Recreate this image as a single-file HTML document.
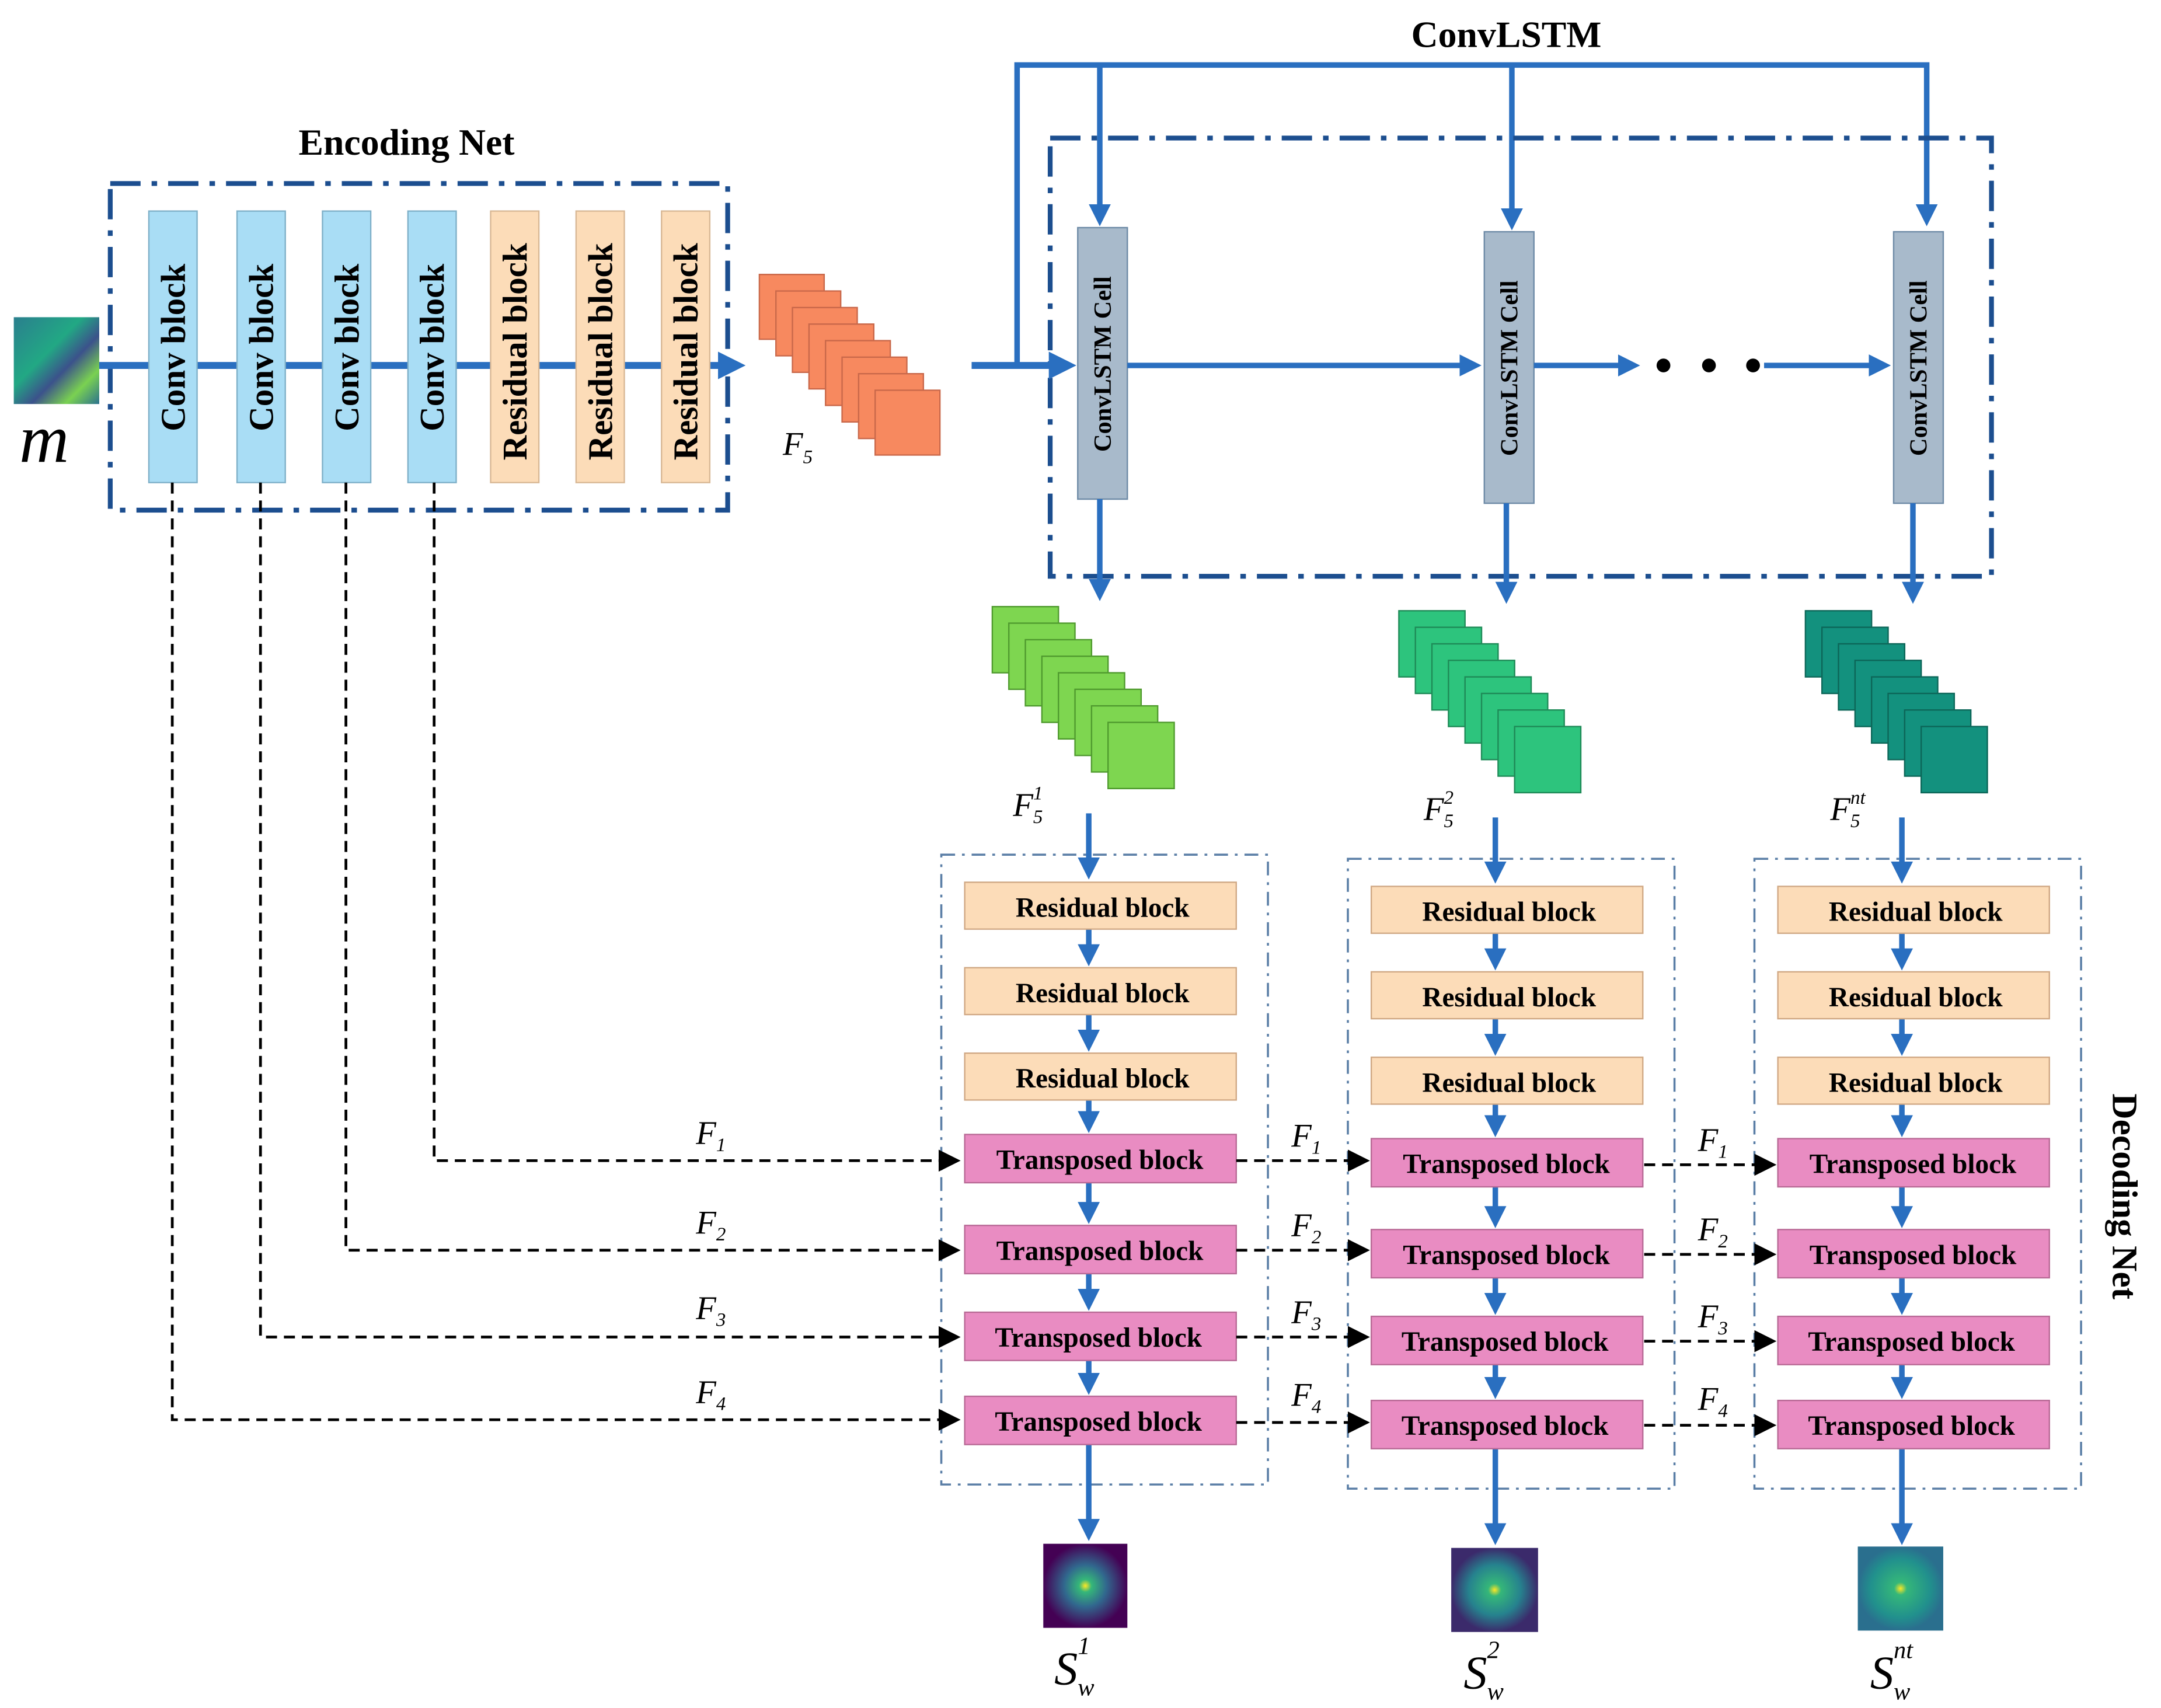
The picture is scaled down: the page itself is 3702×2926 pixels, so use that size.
<!DOCTYPE html>
<html><head><meta charset="utf-8"><style>
html,body{margin:0;padding:0;background:#fff}
svg{display:block}
text{font-family:"Liberation Serif",serif}
.b{font-weight:bold}
</style></head><body>
<svg width="3702" height="2926" viewBox="0 0 1568 1239" xmlns="http://www.w3.org/2000/svg">
<defs>
<marker id="ab" markerWidth="4" markerHeight="4" refX="3" refY="2" orient="auto" markerUnits="strokeWidth"><path d="M0,0 L4,2 L0,4 Z" fill="#2a6fc0"/></marker>
<marker id="ak" markerWidth="8" markerHeight="8" refX="7" refY="4" orient="auto" markerUnits="strokeWidth"><path d="M0,0 L8,4 L0,8 Z" fill="#000"/></marker>
<linearGradient id="vir" x1="0" y1="0" x2="1" y2="1"><stop offset="0" stop-color="#2a7f8e"/><stop offset="0.4" stop-color="#22a884"/><stop offset="0.6" stop-color="#3b528b"/><stop offset="0.8" stop-color="#7ad151"/><stop offset="1" stop-color="#2c728e"/></linearGradient>
<radialGradient id="o1"><stop offset="0" stop-color="#fde725"/><stop offset="0.15" stop-color="#35b779"/><stop offset="0.5" stop-color="#31688e"/><stop offset="1" stop-color="#440154"/></radialGradient>
<radialGradient id="o2"><stop offset="0" stop-color="#fde725"/><stop offset="0.15" stop-color="#35b779"/><stop offset="0.6" stop-color="#26828e"/><stop offset="1" stop-color="#3b2a6b"/></radialGradient>
<radialGradient id="o3"><stop offset="0" stop-color="#fde725"/><stop offset="0.15" stop-color="#35b779"/><stop offset="0.7" stop-color="#21908d"/><stop offset="1" stop-color="#2a6f8e"/></radialGradient>
</defs>

<text x="295" y="112" text-anchor="middle" font-size="27" class="b">Encoding Net</text>
<rect x="80" y="133" width="448" height="237" fill="none" stroke="#1c4e8f" stroke-width="3.5" stroke-dasharray="22,8,4,8"/>
<rect x="10" y="230" width="62" height="63" fill="url(#vir)"/>
<text x="14" y="335" font-size="50" font-style="italic">m</text>
<line x1="72" y1="265" x2="536" y2="265" stroke="#2a6fc0" stroke-width="5" marker-end="url(#ab)"/>
<g font-size="25" class="b">
<g fill="#a9ddf5" stroke="#7fb0c8">
<rect x="108" y="153" width="35" height="197"/><rect x="172" y="153" width="35" height="197"/>
<rect x="234" y="153" width="35" height="197"/><rect x="296" y="153" width="35" height="197"/>
</g>
<g fill="#fcdcb8" stroke="#d8b896">
<rect x="356" y="153" width="35" height="197"/><rect x="418" y="153" width="35" height="197"/><rect x="480" y="153" width="35" height="197"/>
</g>
<text transform="translate(134,252) rotate(-90)" text-anchor="middle">Conv block</text>
<text transform="translate(198,252) rotate(-90)" text-anchor="middle">Conv block</text>
<text transform="translate(260,252) rotate(-90)" text-anchor="middle">Conv block</text>
<text transform="translate(322,252) rotate(-90)" text-anchor="middle">Conv block</text>
<text transform="translate(382,255) rotate(-90)" text-anchor="middle">Residual block</text>
<text transform="translate(444,255) rotate(-90)" text-anchor="middle">Residual block</text>
<text transform="translate(506,255) rotate(-90)" text-anchor="middle">Residual block</text>
</g>
<g fill="#f7895f" stroke="#c9684a">
<rect x="551" y="199" width="47" height="47"/><rect x="563" y="211" width="47" height="47"/><rect x="575" y="223" width="47" height="47"/><rect x="587" y="235" width="47" height="47"/><rect x="599" y="247" width="47" height="47"/><rect x="611" y="259" width="47" height="47"/><rect x="623" y="271" width="47" height="47"/><rect x="635" y="283" width="47" height="47"/>
</g>
<text x="568" y="330" font-size="24" font-style="italic">F<tspan font-size="14" dy="6">5</tspan></text>

<text x="1093" y="34" text-anchor="middle" font-size="27" class="b">ConvLSTM</text>
<path d="M738,265 V47 H1398 V160" fill="none" stroke="#2a6fc0" stroke-width="4" marker-end="url(#ab)"/>
<line x1="798" y1="47" x2="798" y2="160" stroke="#2a6fc0" stroke-width="4" marker-end="url(#ab)"/>
<line x1="1097" y1="47" x2="1097" y2="163" stroke="#2a6fc0" stroke-width="4" marker-end="url(#ab)"/>
<rect x="762" y="100" width="683" height="318" fill="none" stroke="#1c4e8f" stroke-width="3.5" stroke-dasharray="22,8,4,8"/>
<line x1="705" y1="265" x2="776" y2="265" stroke="#2a6fc0" stroke-width="5" marker-end="url(#ab)"/>
<g fill="#a8bacb" stroke="#6d8aa6">
<rect x="782" y="165" width="36" height="197"/><rect x="1077" y="168" width="36" height="197"/><rect x="1374" y="168" width="36" height="197"/>
</g>
<g font-size="18" class="b">
<text transform="translate(806,264) rotate(-90)" text-anchor="middle">ConvLSTM Cell</text>
<text transform="translate(1101,267) rotate(-90)" text-anchor="middle">ConvLSTM Cell</text>
<text transform="translate(1398,267) rotate(-90)" text-anchor="middle">ConvLSTM Cell</text>
</g>
<g stroke="#2a6fc0" stroke-width="4">
<line x1="818" y1="265" x2="1071" y2="265" marker-end="url(#ab)"/>
<line x1="1113" y1="265" x2="1186" y2="265" marker-end="url(#ab)"/>
<line x1="1280" y1="265" x2="1368" y2="265" marker-end="url(#ab)"/>
<line x1="798" y1="362" x2="798" y2="432" marker-end="url(#ab)"/>
<line x1="1093" y1="365" x2="1093" y2="434" marker-end="url(#ab)"/>
<line x1="1388" y1="365" x2="1388" y2="434" marker-end="url(#ab)"/>
</g>
<circle cx="1207" cy="265" r="5"/><circle cx="1240" cy="265" r="5"/><circle cx="1272" cy="265" r="5"/>

<g fill="#7ed650" stroke="#4f9a2e">
<rect x="720" y="440" width="48" height="48"/><rect x="732" y="452" width="48" height="48"/><rect x="744" y="464" width="48" height="48"/><rect x="756" y="476" width="48" height="48"/><rect x="768" y="488" width="48" height="48"/><rect x="780" y="500" width="48" height="48"/><rect x="792" y="512" width="48" height="48"/><rect x="804" y="524" width="48" height="48"/>
</g>
<g fill="#2dc47d" stroke="#1e8a57">
<rect x="1015" y="443" width="48" height="48"/><rect x="1027" y="455" width="48" height="48"/><rect x="1039" y="467" width="48" height="48"/><rect x="1051" y="479" width="48" height="48"/><rect x="1063" y="491" width="48" height="48"/><rect x="1075" y="503" width="48" height="48"/><rect x="1087" y="515" width="48" height="48"/><rect x="1099" y="527" width="48" height="48"/>
</g>
<g fill="#13917e" stroke="#0c6658">
<rect x="1310" y="443" width="48" height="48"/><rect x="1322" y="455" width="48" height="48"/><rect x="1334" y="467" width="48" height="48"/><rect x="1346" y="479" width="48" height="48"/><rect x="1358" y="491" width="48" height="48"/><rect x="1370" y="503" width="48" height="48"/><rect x="1382" y="515" width="48" height="48"/><rect x="1394" y="527" width="48" height="48"/>
</g>
<g font-size="24" font-style="italic">
<text x="735" y="592">F<tspan font-size="14" dy="5">5</tspan><tspan font-size="14" dx="-7" dy="-17">1</tspan></text>
<text x="1033" y="595">F<tspan font-size="14" dy="5">5</tspan><tspan font-size="14" dx="-7" dy="-17">2</tspan></text>
<text x="1328" y="595">F<tspan font-size="14" dy="5">5</tspan><tspan font-size="14" dx="-7" dy="-17">nt</tspan></text>
</g>

<g id="col">
<rect x="683" y="620" width="237" height="457" fill="none" stroke="#5a7ea6" stroke-width="1.5" stroke-dasharray="10,5,2,5"/>
<g stroke="#2a6fc0" stroke-width="4">
<line x1="790" y1="590" x2="790" y2="634" marker-end="url(#ab)"/>
<line x1="790" y1="674" x2="790" y2="697" marker-end="url(#ab)"/>
<line x1="790" y1="736" x2="790" y2="759" marker-end="url(#ab)"/>
<line x1="790" y1="798" x2="790" y2="818" marker-end="url(#ab)"/>
<line x1="790" y1="858" x2="790" y2="884" marker-end="url(#ab)"/>
<line x1="790" y1="924" x2="790" y2="947" marker-end="url(#ab)"/>
<line x1="790" y1="987" x2="790" y2="1008" marker-end="url(#ab)"/>
<line x1="790" y1="1048" x2="790" y2="1114" marker-end="url(#ab)"/>
</g>
<g fill="#fcdcb8" stroke="#d0a884">
<rect x="700" y="640" width="197" height="34"/><rect x="700" y="702" width="197" height="34"/><rect x="700" y="764" width="197" height="34"/>
</g>
<g fill="#e98cc2" stroke="#b86a96">
<rect x="700" y="823" width="197" height="35"/><rect x="700" y="889" width="197" height="35"/><rect x="700" y="952" width="197" height="35"/><rect x="700" y="1013" width="197" height="35"/>
</g>
<g font-size="20" class="b" text-anchor="middle">
<text x="800" y="665">Residual block</text><text x="800" y="727">Residual block</text><text x="800" y="789">Residual block</text>
<text x="798" y="848">Transposed block</text><text x="798" y="914">Transposed block</text><text x="797" y="977">Transposed block</text><text x="797" y="1038">Transposed block</text>
</g>
</g>
<use href="#col" transform="translate(295,3)"/>
<use href="#col" transform="translate(590,3)"/>

<rect x="757" y="1120" width="61" height="61" fill="url(#o1)"/>
<rect x="1053" y="1123" width="63" height="61" fill="url(#o2)"/>
<rect x="1348" y="1122" width="62" height="61" fill="url(#o3)"/>
<g font-size="34" font-style="italic">
<text x="765" y="1222">S<tspan font-size="18" dy="8">w</tspan><tspan font-size="18" dx="-12" dy="-30">1</tspan></text>
<text x="1062" y="1225">S<tspan font-size="18" dy="8">w</tspan><tspan font-size="18" dx="-12" dy="-30">2</tspan></text>
<text x="1357" y="1225">S<tspan font-size="18" dy="8">w</tspan><tspan font-size="18" dx="-12" dy="-30">nt</tspan></text>
</g>
<text transform="translate(1533,868) rotate(90)" text-anchor="middle" font-size="26" class="b">Decoding Net</text>

<g fill="none" stroke="#000" stroke-width="2" stroke-dasharray="8,5">
<path d="M315,350 V842 H695" marker-end="url(#ak)"/>
<path d="M251,350 V907 H695" marker-end="url(#ak)"/>
<path d="M189,350 V970 H695" marker-end="url(#ak)"/>
<path d="M125,350 V1030 H695" marker-end="url(#ak)"/>
<path d="M897,842 H992" marker-end="url(#ak)"/>
<path d="M897,907 H992" marker-end="url(#ak)"/>
<path d="M897,970 H992" marker-end="url(#ak)"/>
<path d="M897,1032 H992" marker-end="url(#ak)"/>
<path d="M1193,845 H1287" marker-end="url(#ak)"/>
<path d="M1193,910 H1287" marker-end="url(#ak)"/>
<path d="M1193,973 H1287" marker-end="url(#ak)"/>
<path d="M1193,1034 H1287" marker-end="url(#ak)"/>
</g>
<g font-size="24" font-style="italic">
<text x="505" y="830">F<tspan font-size="14" dy="5">1</tspan></text>
<text x="505" y="895">F<tspan font-size="14" dy="5">2</tspan></text>
<text x="505" y="957">F<tspan font-size="14" dy="5">3</tspan></text>
<text x="505" y="1018">F<tspan font-size="14" dy="5">4</tspan></text>
<text x="937" y="832">F<tspan font-size="14" dy="5">1</tspan></text>
<text x="937" y="897">F<tspan font-size="14" dy="5">2</tspan></text>
<text x="937" y="960">F<tspan font-size="14" dy="5">3</tspan></text>
<text x="937" y="1020">F<tspan font-size="14" dy="5">4</tspan></text>
<text x="1232" y="835">F<tspan font-size="14" dy="5">1</tspan></text>
<text x="1232" y="900">F<tspan font-size="14" dy="5">2</tspan></text>
<text x="1232" y="963">F<tspan font-size="14" dy="5">3</tspan></text>
<text x="1232" y="1023">F<tspan font-size="14" dy="5">4</tspan></text>
</g>
</svg>
</body></html>
